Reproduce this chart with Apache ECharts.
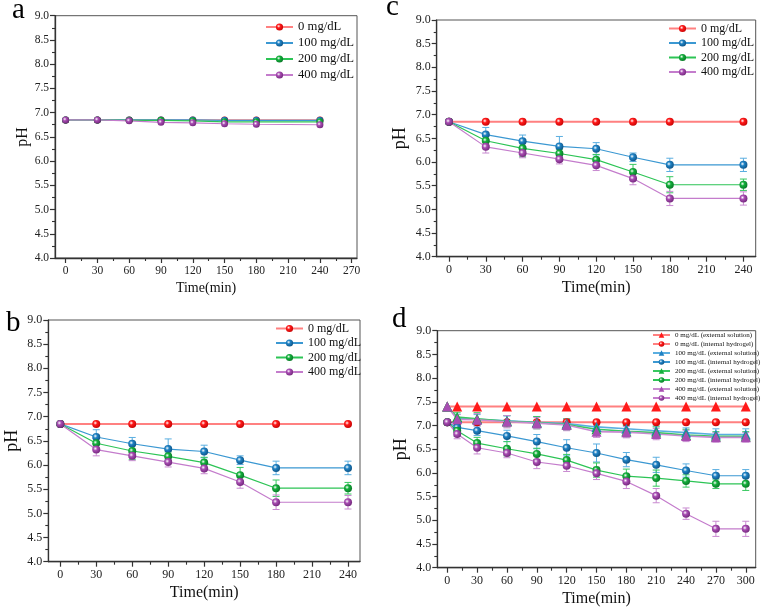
<!DOCTYPE html>
<html><head><meta charset="utf-8">
<script src="https://cdn.jsdelivr.net/npm/echarts@6/dist/echarts.min.js"></script>
<style>html,body{margin:0;padding:0;background:#fff}#c{width:763px;height:611px}</style>
</head><body><div id="c"></div>
<script>
// ---------- DATA ----------
const timeABC = [0, 30, 60, 90, 120, 150, 180, 240];
const ticksA = [0, 30, 60, 90, 120, 150, 180, 210, 240, 270];
const ticksBC = [0, 30, 60, 90, 120, 150, 180, 210, 240];
const timeD = [0, 10, 30, 60, 90, 120, 150, 180, 210, 240, 270, 300];
const ticksD = [0, 30, 60, 90, 120, 150, 180, 210, 240, 270, 300];
const yTicks = ['4.0','4.5','5.0','5.5','6.0','6.5','7.0','7.5','8.0','8.5','9.0'];
const namesABC = ['0 mg/dL', '100 mg/dL', '200 mg/dL', '400 mg/dL'];
const namesD = ['0 mg/dL (external solution)', '0 mg/dL (internal hydrogel)',
  '100 mg/dL (external solution)', '100 mg/dL (internal hydrogel)',
  '200 mg/dL (external solution)', '200 mg/dL (internal hydrogel)',
  '400 mg/dL (external solution)', '400 mg/dL (internal hydrogel)'];

// panel a
const a0   = [6.85, 6.85, 6.85, 6.85, 6.85, 6.85, 6.85, 6.85];
const a100 = [6.85, 6.85, 6.85, 6.85, 6.85, 6.84, 6.84, 6.84];
const a200 = [6.85, 6.85, 6.84, 6.84, 6.83, 6.81, 6.81, 6.81];
const a400 = [6.85, 6.85, 6.83, 6.80, 6.79, 6.77, 6.76, 6.75];

// panels b and c (same data)
const bc0      = [6.85, 6.85, 6.85, 6.85, 6.85, 6.85, 6.85, 6.85];
const bc0Err   = [0, 0, 0, 0, 0, 0, 0, 0];
const bc100    = [6.85, 6.58, 6.44, 6.33, 6.28, 6.10, 5.94, 5.94];
const bc100Err = [0, 0.15, 0.13, 0.21, 0.13, 0.09, 0.14, 0.14];
const bc200    = [6.85, 6.45, 6.29, 6.18, 6.05, 5.79, 5.52, 5.52];
const bc200Err = [0, 0.10, 0.18, 0.09, 0.11, 0.16, 0.17, 0.12];
const bc400    = [6.85, 6.32, 6.19, 6.06, 5.93, 5.65, 5.23, 5.23];
const bc400Err = [0, 0.13, 0.10, 0.10, 0.11, 0.13, 0.15, 0.14];

// panel d
const d0ext     = [7.40, 7.40, 7.40, 7.40, 7.40, 7.40, 7.40, 7.40, 7.40, 7.40, 7.40, 7.40];
const d0int     = [7.07, 7.07, 7.07, 7.07, 7.07, 7.07, 7.07, 7.07, 7.07, 7.07, 7.07, 7.07];
const d100ext   = [7.40, 7.16, 7.13, 7.10, 7.07, 7.04, 6.97, 6.93, 6.89, 6.85, 6.81, 6.81];
const d100int   = [7.07, 6.96, 6.89, 6.78, 6.66, 6.53, 6.42, 6.28, 6.17, 6.05, 5.94, 5.94];
const d200ext   = [7.40, 7.18, 7.14, 7.09, 7.06, 7.02, 6.92, 6.88, 6.85, 6.80, 6.77, 6.77];
const d200int   = [7.07, 6.89, 6.63, 6.51, 6.40, 6.27, 6.06, 5.93, 5.89, 5.83, 5.77, 5.77];
const d400ext   = [7.40, 7.13, 7.12, 7.08, 7.05, 7.01, 6.87, 6.86, 6.82, 6.78, 6.75, 6.75];
const d400int   = [7.07, 6.82, 6.53, 6.42, 6.23, 6.15, 5.99, 5.82, 5.52, 5.14, 4.82, 4.82];
const d0extErr  = [0, 0, 0, 0, 0, 0, 0, 0, 0, 0, 0, 0];
const d0intErr  = [0, 0, 0, 0, 0, 0, 0, 0, 0, 0, 0, 0];
const d100extErr= [0, 0.08, 0.10, 0.10, 0.12, 0.10, 0.10, 0.10, 0.10, 0.10, 0.12, 0.12];
const d100intErr= [0, 0.10, 0.10, 0.12, 0.15, 0.17, 0.19, 0.15, 0.16, 0.14, 0.13, 0.13];
const d200extErr= [0, 0.10, 0.13, 0.12, 0.13, 0.12, 0.12, 0.12, 0.12, 0.12, 0.10, 0.10];
const d200intErr= [0, 0.12, 0.12, 0.15, 0.12, 0.12, 0.15, 0.15, 0.17, 0.13, 0.10, 0.14];
const d400extErr= [0, 0.10, 0.13, 0.13, 0.12, 0.12, 0.12, 0.12, 0.12, 0.12, 0.10, 0.10];
const d400intErr= [0, 0.10, 0.13, 0.10, 0.14, 0.12, 0.13, 0.15, 0.15, 0.12, 0.16, 0.16];

// ---------- STYLE ----------
const FONT = '"Liberation Serif", "DejaVu Serif", serif';
const AX = '#333';
const COL = {
  red:    {m: '#ff1a1a', d: '#c00000', l: '#ff8080', e: '#ff8080'},
  blue:   {m: '#1f82c4', d: '#0d4f80', l: '#3b98d2', e: '#5aaee0'},
  green:  {m: '#14b03c', d: '#087225', l: '#2cc455', e: '#38c860'},
  purple: {m: '#a84db2', d: '#6e2477', l: '#c47ccc', e: '#c88ad0'}
};
function ball(c) {
  return {type: 'radial', x: 0.38, y: 0.38, r: 0.7,
    colorStops: [{offset: 0, color: '#ffffff'}, {offset: 0.35, color: c.m}, {offset: 1, color: c.d}]};
}

const grids = [
  {left: 55, top: 15.7, width: 302, height: 242.3},      // a
  {left: 436.7, top: 20, width: 319, height: 236.7},      // c
  {left: 48.3, top: 320, width: 311.7, height: 241.7},    // b
  {left: 437.3, top: 330.7, width: 318.4, height: 237}    // d
];
const xRanges = [[-10, 275, ticksA], [-10, 250, ticksBC], [-10, 250, ticksBC], [-10, 310, ticksD]];
const fs = [
  {tick: 11.5, title: 14},
  {tick: 12, title: 16},
  {tick: 12, title: 16},
  {tick: 12, title: 16}
];

const xAxis = [], yAxis = [];
grids.forEach((g, i) => {
  g.show = true; g.borderColor = '#555'; g.borderWidth = 1; g.containLabel = false;
  const [mn, mx, tk] = xRanges[i];
  const minor = tk.slice(0, -1).map((v, k) => (v + tk[k + 1]) / 2);
  xAxis.push({
    gridIndex: i, type: 'value', min: mn, max: mx, position: 'bottom',
    axisLine: {show: true, onZero: false, lineStyle: {color: AX, width: 1.3}},
    axisTick: {show: true, customValues: tk, length: 5, lineStyle: {color: AX, width: 1.2}},
    axisLabel: {customValues: tk, fontFamily: FONT, fontSize: fs[i].tick, color: '#222', margin: 7},
    splitLine: {show: false},
    name: 'Time(min)', nameLocation: 'middle', nameGap: 23,
    nameTextStyle: {fontFamily: FONT, fontSize: fs[i].title, fontWeight: 'normal', color: '#111'}
  });
  xAxis.push({
    gridIndex: i, type: 'value', min: mn, max: mx, position: 'bottom',
    axisLine: {show: false, onZero: false},
    axisTick: {show: true, customValues: minor, length: 3, lineStyle: {color: AX, width: 1.1}},
    axisLabel: {show: false}, splitLine: {show: false}
  });
  yAxis.push({
    gridIndex: i, type: 'value', min: 4, max: 9, interval: 0.5,
    axisLine: {show: true, onZero: false, lineStyle: {color: AX, width: 1.3}},
    axisTick: {show: true, length: 5, lineStyle: {color: AX, width: 1.2}},
    minorTick: {show: true, splitNumber: 2, length: 3, lineStyle: {color: AX, width: 1.1}},
    axisLabel: {fontFamily: FONT, fontSize: fs[i].tick, color: '#222', margin: 6,
      formatter: v => yTicks[Math.round((v - 4) / 0.5)]},
    splitLine: {show: false}, minorSplitLine: {show: false},
    name: 'pH', nameLocation: 'middle', nameGap: i === 0 ? 24 : 27,
    nameTextStyle: {fontFamily: FONT, fontSize: fs[i].title + 2, fontWeight: 'normal', color: '#111'}
  });
});

const series = [];
function addLine(name, xs, ys, gi, c, opts) {
  opts = opts || {};
  series.push({
    type: 'line', name: name, xAxisIndex: 2 * gi, yAxisIndex: gi,
    data: xs.map((x, k) => [x, ys[k]]),
    symbol: opts.symbol || 'circle', symbolSize: opts.size || 8,
    showSymbol: true, animation: false, z: opts.z || 3,
    lineStyle: {color: opts.lineColor || c.l, width: opts.lw || 1.2},
    itemStyle: {color: opts.symbol === 'triangle' ? c.m : ball(c), borderWidth: 0}
  });
}
function addErr(xs, ys, es, gi, color) {
  const data = [];
  xs.forEach((x, k) => { if (es[k] > 0) data.push([x, ys[k] - es[k], ys[k] + es[k]]); });
  series.push({
    type: 'custom', xAxisIndex: 2 * gi, yAxisIndex: gi, silent: true, animation: false, z: 2,
    data: data, encode: {x: 0, y: [1, 2]},
    renderItem: (params, api) => {
      const x = api.value(0);
      const lo = api.coord([x, api.value(1)]);
      const hi = api.coord([x, api.value(2)]);
      const w = 3.5, st = {stroke: color, lineWidth: 1};
      return {type: 'group', children: [
        {type: 'line', shape: {x1: lo[0], y1: lo[1], x2: hi[0], y2: hi[1]}, style: st},
        {type: 'line', shape: {x1: lo[0] - w, y1: lo[1], x2: lo[0] + w, y2: lo[1]}, style: st},
        {type: 'line', shape: {x1: hi[0] - w, y1: hi[1], x2: hi[0] + w, y2: hi[1]}, style: st}
      ]};
    }
  });
}

// panel a (grid 0)
addLine(namesABC[0], timeABC, a0, 0, COL.red, {lw: 1.4, size: 7});
addLine(namesABC[1], timeABC, a100, 0, COL.blue, {size: 7});
addLine(namesABC[2], timeABC, a200, 0, COL.green, {size: 7});
addLine(namesABC[3], timeABC, a400, 0, COL.purple, {size: 7});

// panels c (grid 1) and b (grid 2)
[1, 2].forEach(gi => {
  addErr(timeABC, bc0, bc0Err, gi, COL.red.e);
  addErr(timeABC, bc100, bc100Err, gi, COL.blue.e);
  addErr(timeABC, bc200, bc200Err, gi, COL.green.e);
  addErr(timeABC, bc400, bc400Err, gi, COL.purple.e);
  addLine(namesABC[0], timeABC, bc0, gi, COL.red, {lw: 2});
  addLine(namesABC[1], timeABC, bc100, gi, COL.blue);
  addLine(namesABC[2], timeABC, bc200, gi, COL.green);
  addLine(namesABC[3], timeABC, bc400, gi, COL.purple);
});

// panel d (grid 3)
const dSets = [
  [d0ext, d0extErr, COL.red, 'triangle'], [d0int, d0intErr, COL.red, 'circle'],
  [d100ext, d100extErr, COL.blue, 'triangle'], [d100int, d100intErr, COL.blue, 'circle'],
  [d200ext, d200extErr, COL.green, 'triangle'], [d200int, d200intErr, COL.green, 'circle'],
  [d400ext, d400extErr, COL.purple, 'triangle'], [d400int, d400intErr, COL.purple, 'circle']
];
dSets.forEach(s => addErr(timeD, s[0], s[1], 3, s[2].e));
dSets.forEach((s, k) => {
  const ext = s[3] === 'triangle';
  addLine(namesD[k], timeD, s[0], 3, s[2], {
    symbol: s[3], size: ext ? 10 : 8, lw: k < 2 ? 2 : (ext ? 1.6 : 1.2),
    lineColor: ext && k >= 2 ? s[2].e : s[2].l, z: ext ? 4 : 3
  });
});

const legendBase = {orient: 'vertical', padding: 0, selectedMode: false};
const legends = [
  Object.assign({}, legendBase, {left: 265, top: 20, data: namesABC, itemWidth: 27, itemHeight: 9, itemGap: 2,
    textStyle: {fontFamily: FONT, fontSize: 12.7, lineHeight: 14, color: '#111'}}),
  Object.assign({}, legendBase, {left: 668, top: 22, data: namesABC, itemWidth: 27, itemHeight: 9, itemGap: 1.5,
    textStyle: {fontFamily: FONT, fontSize: 12, lineHeight: 13, color: '#111'}}),
  Object.assign({}, legendBase, {left: 275, top: 322, data: namesABC, itemWidth: 27, itemHeight: 9, itemGap: 1.5,
    textStyle: {fontFamily: FONT, fontSize: 12, lineHeight: 13, color: '#111'}}),
  Object.assign({}, legendBase, {left: 652, top: 331, data: namesD, itemWidth: 17, itemHeight: 7, itemGap: 1,
    textStyle: {fontFamily: FONT, fontSize: 7, lineHeight: 8, color: '#111'}})
];

const titleStyle = {fontFamily: FONT, fontSize: 29, fontWeight: 'normal', color: '#000'};
const titles = [
  {text: 'a', left: 12, top: -4, padding: 0, textStyle: titleStyle},
  {text: 'c', left: 386, top: -7, padding: 0, textStyle: titleStyle},
  {text: 'b', left: 6, top: 309, padding: 0, textStyle: titleStyle},
  {text: 'd', left: 392, top: 305, padding: 0, textStyle: titleStyle}
];

const chart = echarts.init(document.getElementById('c'), null, {renderer: 'canvas'});
chart.setOption({
  backgroundColor: '#fff', animation: false,
  title: titles, legend: legends, grid: grids, xAxis: xAxis, yAxis: yAxis, series: series
});
</script></body></html>
